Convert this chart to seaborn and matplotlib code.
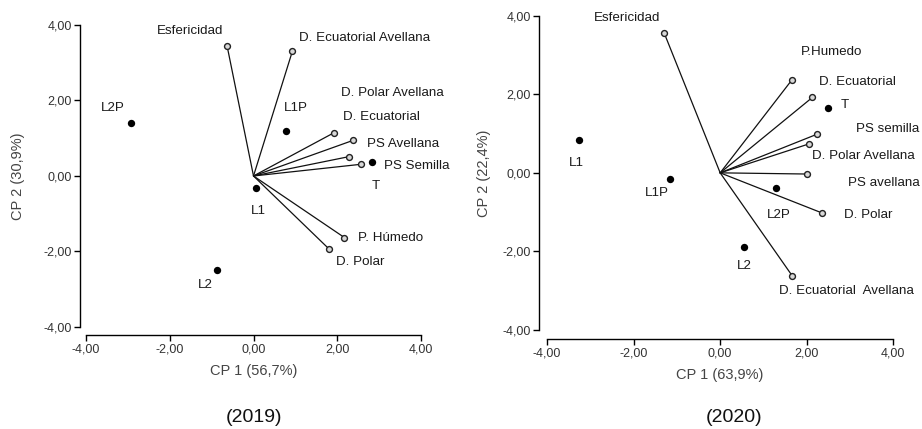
import matplotlib
matplotlib.use("Agg")
import matplotlib.pyplot as plt
import numpy as np
import pandas as pd
import seaborn as sns

# 2019 biplot
VARS_2019 = ["Esfericidad", "D. Ecuatorial Avellana", "D. Polar Avellana", "D. Ecuatorial",
             "PS Avellana", "PS Semilla", "P. Húmedo", "D. Polar"]
VX_2019 = [-0.63, 0.93, 1.93, 2.37, 2.27, 2.57, 2.17, 1.81]
VY_2019 = [3.44, 3.31, 1.15, 0.94, 0.51, 0.31, -1.63, -1.94]
OBS_2019 = ["L2P", "L1P", "L1", "L2", "T"]
OX_2019 = [-2.93, 0.77, 0.06, -0.86, 2.83]
OY_2019 = [1.41, 1.19, -0.31, -2.49, 0.38]

# 2020 biplot
VARS_2020 = ["Esfericidad", "P.Humedo", "D. Ecuatorial", "PS semilla", "D. Polar Avellana",
             "PS avellana", "D. Polar", "D. Ecuatorial  Avellana"]
VX_2020 = [-1.29, 1.66, 2.13, 2.23, 2.06, 2.00, 2.35, 1.67]
VY_2020 = [3.55, 2.37, 1.92, 0.98, 0.74, -0.03, -1.02, -2.63]
OBS_2020 = ["L1", "L1P", "L2P", "L2", "T"]
OX_2020 = [-3.26, -1.15, 1.29, 0.55, 2.50]
OY_2020 = [0.83, -0.15, -0.38, -1.89, 1.66]

X_LABELS = ["CP 1 (56,7%)", "CP 1 (63,9%)"]
Y_LABELS = ["CP 2 (30,9%)", "CP 2 (22,4%)"]
YEARS = ["(2019)", "(2020)"]
TICKS = [-4, -2, 0, 2, 4]

# label placement, pixel offsets from the mark (dx, dy, ha)
LABEL_OFFSETS = [
    {
        "Esfericidad": (-4, 15, "right"), "D. Ecuatorial Avellana": (7, 13, "left"),
        "D. Polar Avellana": (7, 40, "left"), "D. Ecuatorial": (-10, 23, "left"),
        "PS Avellana": (18, 13, "left"), "PS Semilla": (23, -2, "left"),
        "P. Húmedo": (14, 0, "left"), "D. Polar": (7, -13, "left"),
        "L2P": (-18, 15, "center"), "L1P": (10, 23, "center"), "L1": (2, -23, "center"),
        "L2": (-12, -15, "center"), "T": (0, -24, "left"),
    },
    {
        "Esfericidad": (-4, 15, "right"), "P.Humedo": (9, 28, "left"),
        "D. Ecuatorial": (7, 15, "left"), "PS semilla": (39, 5, "left"),
        "D. Polar Avellana": (3, -12, "left"), "PS avellana": (41, -9, "left"),
        "D. Polar": (22, -2, "left"), "D. Ecuatorial  Avellana": (-13, -15, "left"),
        "L1": (-3, -23, "center"), "L1P": (-14, -14, "center"), "L2P": (3, -27, "center"),
        "L2": (0, -19, "center"), "T": (12, 3, "left"),
    },
]

sns.set_theme(style="ticks")
plt.rcParams["font.family"] = ["Liberation Sans", "DejaVu Sans"]

fig = plt.figure(figsize=(9.22, 4.29), dpi=100)
axes = [fig.add_axes([0.0933, 0.2378, 0.3633, 0.704]),
        fig.add_axes([0.5933, 0.2308, 0.3756, 0.7326])]
spine_offsets = [(6, 8), (8, 9)]
ylabel_pads = [13, 8]

panels = [
    (VARS_2019, VX_2019, VY_2019, OBS_2019, OX_2019, OY_2019),
    (VARS_2020, VX_2020, VY_2020, OBS_2020, OX_2020, OY_2020),
]

for i, (ax, (vnames, vx, vy, onames, ox, oy)) in enumerate(zip(axes, panels)):
    vec = pd.DataFrame({"name": vnames, "x": vx, "y": vy})
    obs = pd.DataFrame({"name": onames, "x": ox, "y": oy})

    for _, row in vec.iterrows():
        ax.plot([0, row["x"]], [0, row["y"]], color="#111111", lw=0.9, zorder=2)
    sns.scatterplot(data=vec, x="x", y="y", ax=ax, marker="o", s=18, color="#d8d8d8",
                    edgecolor="#222222", linewidth=1.0, zorder=3, legend=False)
    sns.scatterplot(data=obs, x="x", y="y", ax=ax, marker="o", s=28, color="black",
                    edgecolor="black", linewidth=0, zorder=3, legend=False)

    offsets = LABEL_OFFSETS[i]
    for df in (vec, obs):
        for _, row in df.iterrows():
            dx, dy, ha = offsets[row["name"]]
            ax.annotate(row["name"], (row["x"], row["y"]), xytext=(dx, dy),
                        textcoords="offset pixels", ha=ha, va="center",
                        fontsize=9.6, color="#1a1a1a")

    ax.set_xlim(-4, 4)
    ax.set_ylim(-4, 4)
    ax.set_xticks(TICKS)
    ax.set_yticks(TICKS)
    ax.set_xticklabels([f"{t:.2f}".replace(".", ",") for t in TICKS])
    ax.set_yticklabels([f"{t:.2f}".replace(".", ",") for t in TICKS])
    ax.tick_params(labelsize=9, labelcolor="#333333", length=4, width=1.0, color="black", pad=2)
    for side in ("top", "right"):
        ax.spines[side].set_visible(False)
    ox_px, oy_px = spine_offsets[i]
    ax.spines["left"].set_position(("outward", ox_px * 0.72))
    ax.spines["bottom"].set_position(("outward", oy_px * 0.72))
    for side in ("left", "bottom"):
        ax.spines[side].set_color("black")
        ax.spines[side].set_linewidth(1.0)
    ax.set_xlabel(X_LABELS[i], fontsize=10.5, color="#444444", labelpad=6)
    ax.set_ylabel(Y_LABELS[i], fontsize=10.5, color="#444444", labelpad=ylabel_pads[i])
    ax.set_facecolor("none")

fig.text(254 / 922, 1 - 418 / 429, YEARS[0], ha="center", va="center", fontsize=14, color="#111111")
fig.text(734 / 922, 1 - 418 / 429, YEARS[1], ha="center", va="center", fontsize=14, color="#111111")

fig.savefig("out.png", dpi=100)
